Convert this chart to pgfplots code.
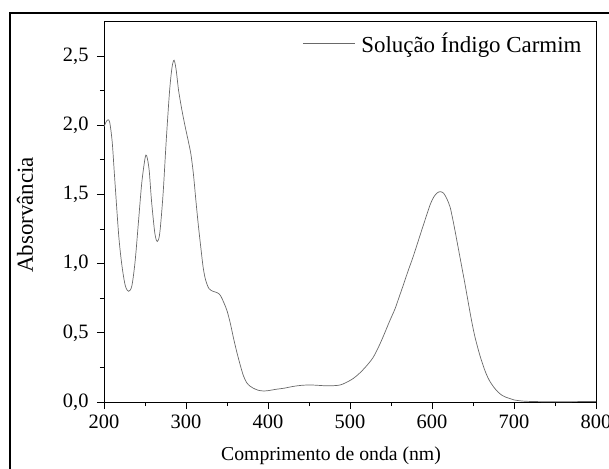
\documentclass[border=0pt]{standalone}
\usepackage{pgfplots}
\pgfplotsset{compat=1.18}
\usepackage{fontspec}
\setmainfont{Liberation Serif}
\definecolor{curve}{RGB}{105,105,105}
\begin{document}
\begin{tikzpicture}
\useasboundingbox (-104bp,-67bp) rectangle (505bp,402bp);
\draw[line width=1.8bp] (-94bp,-90bp) -- (-94bp,389bp) -- (530bp,389bp);
\begin{axis}[
  at={(0,0)}, anchor=south west,
  scale only axis, width=492bp, height=380.5bp,
  xmin=200, xmax=800, ymin=0, ymax=2.75,
  xtick={200,300,...,800}, ytick={0,0.5,...,2.5},
  minor tick num=1,
  tick align=outside, xtick pos=bottom, ytick pos=left,
  major tick length=7bp, minor tick length=4bp,
  axis line style={line width=0.9bp},
  every tick/.style={line width=0.9bp, black},
  /pgf/number format/assume math mode=true,
  ticklabel style={font=\fontsize{20.5}{24}\selectfont},
  yticklabel style={xshift=-5bp, /pgf/number format/use comma, /pgf/number format/fixed, /pgf/number format/fixed zerofill, /pgf/number format/precision=1},
  xticklabel style={yshift=-2bp},
  legend style={draw=none, fill=none, at={(axis description cs:0.975,0.975)}, anchor=north east, font=\fontsize{23}{27}\selectfont, inner sep=0pt},
  legend image code/.code={\draw[#1] (0bp,0bp) -- (52bp,0bp); \path (56bp,0bp);},
]
\addplot[curve, line width=0.7bp, smooth] coordinates {
(200,1.99) (203,2.03) (205,2.04) (207,2.02) (210,1.88) (213,1.62) (218,1.20)
(222,0.98) (226,0.84) (230,0.80) (234,0.84) (238,1.02) (242,1.30) (246,1.58)
(250,1.76) (252,1.78) (255,1.68) (258,1.45) (262,1.22) (265,1.16) (268,1.22)
(272,1.50) (276,1.90) (280,2.25) (283,2.42) (285.5,2.47) (288,2.40) (291,2.25)
(295,2.11) (299,1.99) (303,1.88) (306,1.79) (309,1.65) (312,1.46) (315,1.28)
(318,1.12) (321,0.97) (324,0.88) (328,0.82) (333,0.80) (338,0.79) (342,0.77)
(346,0.72) (350,0.66) (354,0.57) (358,0.46) (362,0.36) (366,0.27) (370,0.19)
(374,0.14) (378,0.115) (382,0.10) (388,0.085) (394,0.08) (400,0.082) (410,0.092)
(420,0.10) (430,0.112) (440,0.12) (450,0.123) (460,0.121) (470,0.117) (480,0.118)
(488,0.123) (495,0.14) (504,0.17) (512,0.21) (520,0.26) (528,0.32) (535,0.40)
(541,0.48) (548,0.58) (555,0.675) (560,0.76) (565,0.845) (571,0.95) (577,1.05)
(583,1.16) (589,1.27) (594,1.36) (598,1.43) (602,1.48) (606,1.51) (610,1.52)
(614,1.51) (618,1.47) (622,1.41) (625,1.33) (628,1.24) (631,1.145) (634,1.05)
(637,0.955) (640,0.86) (643,0.76) (646,0.66) (649,0.565) (652,0.48) (655,0.41)
(658,0.345) (662,0.27) (666,0.205) (670,0.155) (675,0.11) (680,0.075) (685,0.05)
(690,0.035) (695,0.025) (700,0.015) (710,0.007) (720,0.004) (740,0.002) (760,0.002)
(780,0.003) (800,0.003)
};
\addlegendentry{Solução Índigo Carmim}
\end{axis}
\node[font=\fontsize{19.8}{24}\selectfont, anchor=base west, inner sep=0pt] at (117bp,-58bp) {Comprimento de onda (nm)};
\node[font=\fontsize{23}{27}\selectfont, anchor=base west, rotate=90, inner sep=0pt] at (-71bp,129bp) {Absorvância};
\end{tikzpicture}
\end{document}
